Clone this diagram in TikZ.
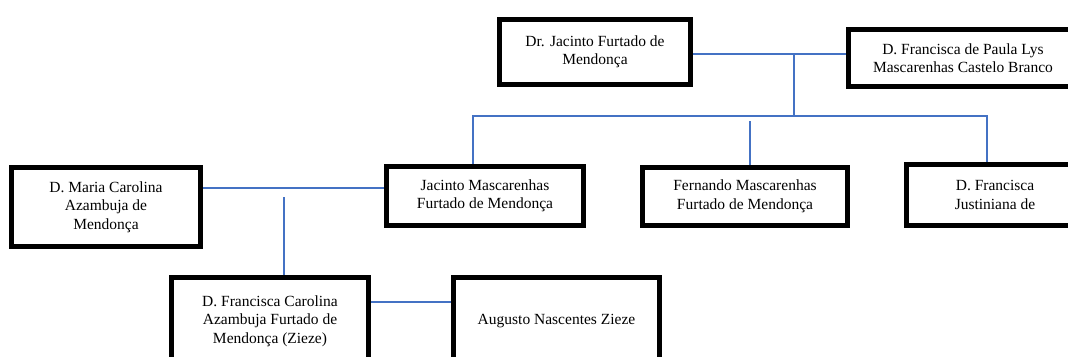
\documentclass[tikz,border=0pt]{standalone}
\usepackage{fontspec}
\setmainfont{Liberation Serif}
\begin{document}
\begin{tikzpicture}[x=1pt,y=-1pt,
  person/.style={draw=black, line width=5pt, fill=white, inner sep=0pt,
    align=center, font=\fontsize{15.5}{18.5}\selectfont},
  link/.style={draw={rgb,255:red,68;green,114;blue,196}, line width=2pt}]
\useasboundingbox (0,0) rectangle (1068,356);

% first generation
\node[person, minimum width=191pt, minimum height=65pt] (dr) at (595,52)
  {Dr. Jacinto Furtado de\\Mendonça};
\node[person, minimum width=229pt, minimum height=57pt] (paula) at (963,58)
  {D. Francisca de Paula Lys\\Mascarenhas Castelo Branco};

% children
\node[person, minimum width=189pt, minimum height=79pt] (maria) at (106,207)
  {D. Maria Carolina\\Azambuja de\\Mendonça};
\node[person, minimum width=197pt, minimum height=59pt] (jacinto) at (485,196)
  {Jacinto Mascarenhas\\Furtado de Mendonça};
\node[person, minimum width=205pt, minimum height=58pt] (fernando) at (745,196.5)
  {Fernando Mascarenhas\\Furtado de Mendonça};
\node[person, minimum width=177pt, minimum height=61pt] (justiniana) at (995,195)
  {D. Francisca\\Justiniana de};

% grandchildren
\node[person, minimum width=197pt, minimum height=87pt] (carolina) at (270,321)
  {D. Francisca Carolina\\Azambuja Furtado de\\Mendonça (Zieze)};
\node[person, minimum width=206pt, minimum height=87pt] (augusto) at (556.5,321)
  {Augusto Nascentes Zieze};

% junction points
\coordinate (p1) at (0,54);
\coordinate (j1) at (794,54);
\coordinate (bar) at (794,116);
\coordinate (fn) at (750,121);
\coordinate (m) at (0,188);
\coordinate (cv) at (284,197);
\coordinate (ca) at (0,302);

% marriage and descent lines
\draw[link] (dr.east |- p1) -- (paula.west |- p1);
\draw[link] (j1) -- (bar);
\draw[link] ([xshift=-12pt]jacinto.north) |- (bar) -| ([xshift=-8pt]justiniana.north);
\draw[link] (fernando.north -| fn) -- (fn);
\draw[link] (maria.east |- m) -- (jacinto.west |- m);
\draw[link] (cv) -- (carolina.north -| cv);
\draw[link] (carolina.east |- ca) -- (augusto.west |- ca);
\end{tikzpicture}
\end{document}
